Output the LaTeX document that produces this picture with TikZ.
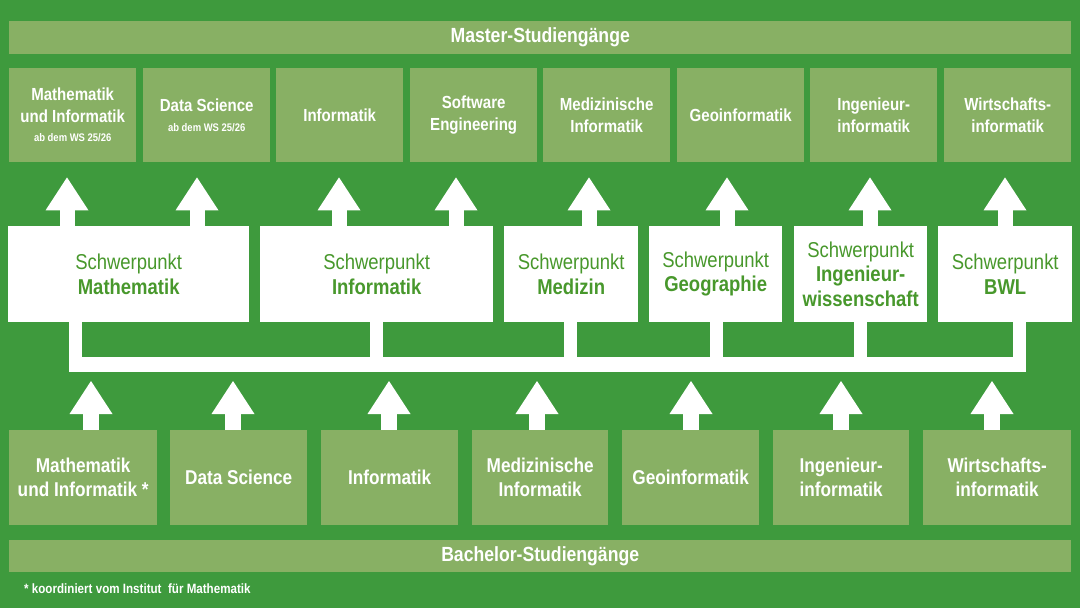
\documentclass[tikz,border=0pt]{standalone}
\usepackage{fontspec}
\setmainfont{Liberation Sans}[FakeStretch=0.86]
\usetikzlibrary{arrows.meta,positioning}

\definecolor{unigreen}{RGB}{62,154,61}
\definecolor{palegreen}{RGB}{136,176,100}
\definecolor{textgreen}{RGB}{72,152,44}

\begin{document}
\begin{tikzpicture}[
  x=1pt, y=-1pt,
  every node/.style={align=center, inner sep=0pt, anchor=north west},
  band/.style={fill=palegreen, text=white, minimum width=1062pt, minimum height=33pt,
    font=\bfseries\fontsize{20.5}{22}\selectfont},
  master/.style={fill=palegreen, text=white, minimum width=127pt, minimum height=94pt,
    font=\bfseries\fontsize{17.5}{22}\selectfont},
  bachelor/.style={fill=palegreen, text=white, minimum height=95pt,
    font=\bfseries\fontsize{20}{24}\selectfont},
  focus/.style={fill=white, text=textgreen, minimum height=96pt,
    font=\fontsize{21.5}{24.5}\selectfont},
  upfat/.style={draw=white, line width=15pt,
    -{Triangle[width=43pt, length=33pt, line width=0pt]}},
  bus/.style={draw=white, line width=15pt},
  stem/.style={draw=white, line width=13pt}
]

% --- Background
\fill[unigreen] (0,0) rectangle (1080,608);

% --- Master programmes
\node[band] (master) at (9,21) {Master-Studieng\"ange};
\node[master] (mMathInf) at (9,68)
  {Mathematik\\und Informatik\\[-3pt]{\fontsize{11}{13}\selectfont ab dem WS 25/26}};
\node[master] (mDataSci) at (143,68)
  {Data Science\\[-2pt]{\fontsize{11}{13}\selectfont ab dem WS 25/26}};
\node[master] (mInf)   at (276,68) {Informatik};
\node[master] (mSE)    at (410,68) {Software\\Engineering};
\node[master] (mMedInf) at (543,68) {Medizinische\\Informatik};
\node[master] (mGeo)   at (677,68) {Geoinformatik};
\node[master] (mIng)   at (810,68) {Ingenieur-\\informatik};
\node[master] (mWiInf) at (944,68) {Wirtschafts-\\informatik};

% --- Focus areas
\node[focus, minimum width=241pt] (sMath) at (8,226)   {Schwerpunkt\\\textbf{Mathematik}};
\node[focus, minimum width=233pt] (sInf)  at (260,226) {Schwerpunkt\\\textbf{Informatik}};
\node[focus, minimum width=134pt] (sMed)  at (504,226) {Schwerpunkt\\\textbf{Medizin}};
\node[focus, minimum width=133pt] (sGeo)  at (649,226) {Schwerpunkt\\\textbf{Geographie}};
\node[focus, minimum width=133pt] (sIng)  at (794,226) {Schwerpunkt\\\textbf{Ingenieur-}\\\textbf{wissenschaft}};
\node[focus, minimum width=134pt] (sBWL)  at (938,226) {Schwerpunkt\\\textbf{BWL}};

% --- Bachelor programmes
\node[bachelor, minimum width=148pt] (bMathInf) at (9,430)   {Mathematik\\und Informatik *};
\node[bachelor, minimum width=137pt] (bDataSci) at (170,430) {Data Science};
\node[bachelor, minimum width=137pt] (bInf)     at (321,430) {Informatik};
\node[bachelor, minimum width=136pt] (bMedInf)  at (472,430) {Medizinische\\Informatik};
\node[bachelor, minimum width=137pt] (bGeo)     at (622,430) {Geoinformatik};
\node[bachelor, minimum width=136pt] (bIng)     at (773,430) {Ingenieur-\\informatik};
\node[bachelor, minimum width=148pt] (bWiInf)   at (923,430) {Wirtschafts-\\informatik};
\node[band, minimum height=32pt] (bachelor) at (9,540) {Bachelor-Studieng\"ange};

\node[anchor=base west, text=white, font=\bfseries\fontsize{13.5}{15}\selectfont] (note)
  at (24,593) {* koordiniert vom Institut\ \ f\"ur Mathematik};

% --- Arrows from focus areas to master programmes
\foreach \x/\s/\m in {67/sMath/mMathInf, 197/sMath/mDataSci, 339/sInf/mInf, 456/sInf/mSE,
                      589/sMed/mMedInf, 727/sGeo/mGeo, 870/sIng/mIng, 1005/sBWL/mWiInf}
  \draw[upfat, shorten >=15pt] (\s.north -| \x,0) -- (\m.south -| \x,0);

% --- Bus collecting the focus areas
\coordinate (busL) at (69,364.5);
\coordinate (busR) at (1026,364.5);
\foreach \x/\s in {75.5/sMath, 376.5/sInf, 570.5/sMed, 716/sGeo, 860.5/sIng, 1019/sBWL}
  \draw[stem] (\s.south -| \x,0) -- (busL -| \x,0);
\draw[bus] (busL) -- (busR);

% --- Arrows from bachelor programmes to the bus
\foreach \x/\b in {91/bMathInf, 233/bDataSci, 389/bInf, 537/bMedInf,
                   691/bGeo, 841/bIng, 992/bWiInf}
  \draw[upfat, line width=16pt, shorten >=16.5pt] (\b.north -| \x,0) -- (busL -| \x,0);

\end{tikzpicture}
\end{document}
